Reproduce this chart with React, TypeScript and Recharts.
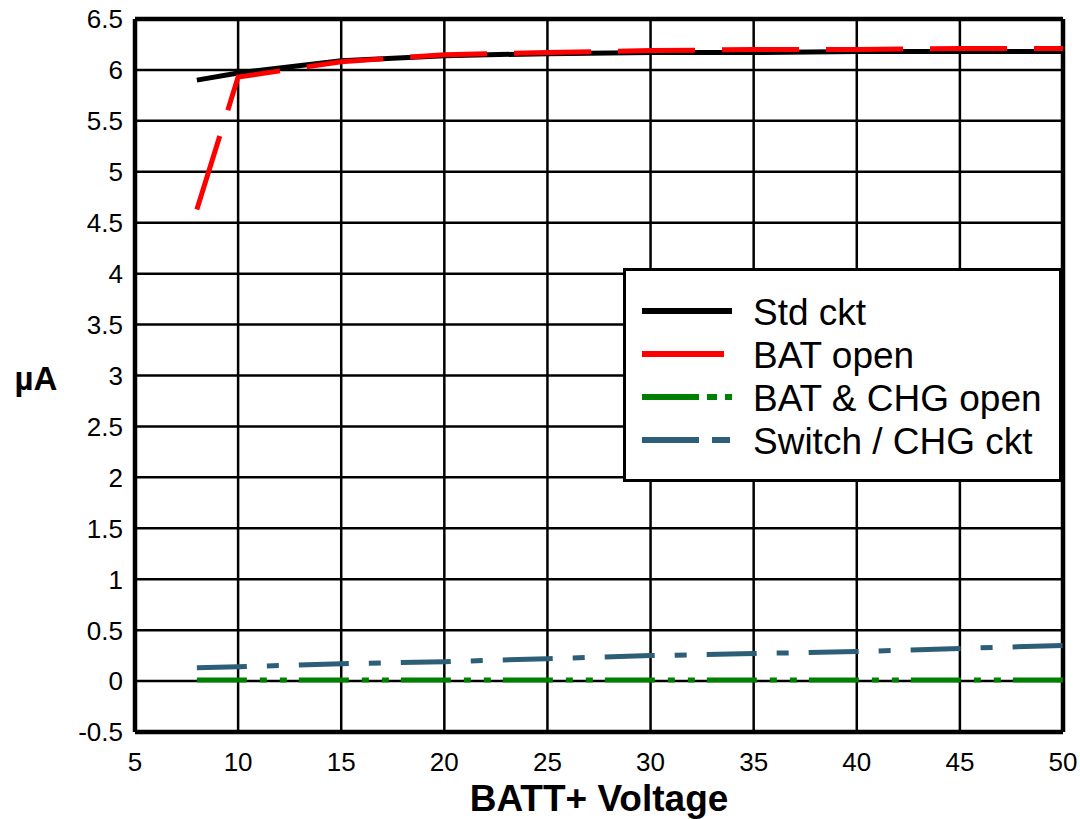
import React from 'react';
import { LineChart, Line, XAxis, YAxis, CartesianGrid, ReferenceLine, Legend, Label } from 'recharts';

const FONT = '"Liberation Sans", Arial, sans-serif';

const voltage = [8, 10, 15, 20, 25, 30, 35, 40, 45, 50];
const stdCkt = [5.9, 5.97, 6.09, 6.14, 6.16, 6.17, 6.17, 6.18, 6.18, 6.18];
const batOpen = [4.63, 5.93, 6.08, 6.15, 6.17, 6.19, 6.2, 6.2, 6.21, 6.21];
const batChgOpen = [0.01, 0.01, 0.01, 0.01, 0.01, 0.01, 0.01, 0.01, 0.01, 0.01];
const switchChg = [0.13, 0.14, 0.17, 0.19, 0.22, 0.25, 0.27, 0.29, 0.32, 0.35];

const xTicks = [5, 10, 15, 20, 25, 30, 35, 40, 45, 50];
const yTicks = [-0.5, 0, 0.5, 1, 1.5, 2, 2.5, 3, 3.5, 4, 4.5, 5, 5.5, 6, 6.5];

const data = voltage.map((v, i) => ({
  v,
  std: stdCkt[i],
  bat: batOpen[i],
  batChg: batChgOpen[i],
  sw: switchChg[i],
}));

const series = [
  { key: 'std', name: 'Std ckt', color: '#000000', dash: undefined, legendDash: undefined, legendLen: 90 },
  { key: 'bat', name: 'BAT open', color: '#ff0000', dash: '77 27', legendDash: undefined, legendLen: 82 },
  { key: 'batChg', name: 'BAT & CHG open', color: '#008000', dash: '50 13 7 13 7 12', legendDash: '57 8 10 8 7', legendLen: 90 },
  { key: 'sw', name: 'Switch / CHG ckt', color: '#2d5e77', dash: '50 20 12 20', legendDash: '57 13 18', legendLen: 88 },
];

function XTick(props: any) {
  const { x, y, payload } = props;
  return (
    <text x={x} y={y + 39} textAnchor="middle" fontSize={26} fontFamily={FONT} fill="#000">
      {payload.value}
    </text>
  );
}

function YTick(props: any) {
  const { x, y, payload } = props;
  return (
    <text x={x - 12} y={y} dy="0.36em" textAnchor="end" fontSize={26} fontFamily={FONT} fill="#000">
      {payload.value}
    </text>
  );
}

function LegendBox() {
  return (
    <svg width={439} height={214} style={{ display: 'block' }}>
      <rect x={1.5} y={1.5} width={436} height={211} fill="#fff" stroke="#000" strokeWidth={3} />
      {series.map((s, i) => {
        const cy = 43 + i * 43;
        return (
          <g key={s.key}>
            <line x1={19} x2={19 + s.legendLen} y1={cy} y2={cy} stroke={s.color} strokeWidth={6} strokeDasharray={s.legendDash} />
            <text x={130} y={cy + 14} fontSize={37} fontFamily={FONT} fill="#000">
              {s.name}
            </text>
          </g>
        );
      })}
    </svg>
  );
}

export default function App() {
  return (
    <div style={{ position: 'absolute', left: 0, top: 0, background: '#fff' }}>
      <LineChart width={1080} height={819} data={data} margin={{ top: 19, right: 17, bottom: 0, left: 0 }}>
        <CartesianGrid stroke="#000" strokeWidth={2.5} fill="#fff" />
        <XAxis
          dataKey="v"
          type="number"
          domain={[5, 50]}
          ticks={xTicks}
          height={87}
          tickSize={0}
          tickMargin={0}
          tickLine={false}
          axisLine={false}
          tick={<XTick />}
          interval={0}
        >
          <Label
            content={(p: any) => {
              const vb = p.viewBox;
              return (
                <text x={vb.x + vb.width / 2} y={vb.y + 79} textAnchor="middle" fontSize={37} fontWeight="bold" fontFamily={FONT} fill="#000">
                  BATT+ Voltage
                </text>
              );
            }}
          />
        </XAxis>
        <YAxis
          type="number"
          domain={[-0.5, 6.5]}
          ticks={yTicks}
          width={135}
          tickSize={0}
          tickMargin={0}
          tickLine={false}
          axisLine={false}
          tick={<YTick />}
          interval={0}
        >
          <Label
            content={(p: any) => {
              const vb = p.viewBox;
              return (
                <text x={36} y={vb.y + vb.height / 2 + 3} dy="0.36em" textAnchor="middle" fontSize={33} fontWeight="bold" fontFamily={FONT} fill="#000">
                  µA
                </text>
              );
            }}
          />
        </YAxis>
        <ReferenceLine x={5} stroke="#000" strokeWidth={4.5} />
        <ReferenceLine x={50} stroke="#000" strokeWidth={4.5} />
        <ReferenceLine y={-0.5} stroke="#000" strokeWidth={4.5} />
        <ReferenceLine y={6.5} stroke="#000" strokeWidth={4.5} />
        {series.map((s) => (
          <Line
            key={s.key}
            dataKey={s.key}
            name={s.name}
            type="linear"
            stroke={s.color}
            strokeWidth={5}
            strokeDasharray={s.dash}
            dot={false}
            activeDot={false}
            isAnimationActive={false}
          />
        ))}
        <Legend
          layout="horizontal"
          verticalAlign="middle"
          align="center"
          content={() => <LegendBox />}
          wrapperStyle={{ left: 623, top: 268, width: 439, height: 214 }}
        />
      </LineChart>
    </div>
  );
}
